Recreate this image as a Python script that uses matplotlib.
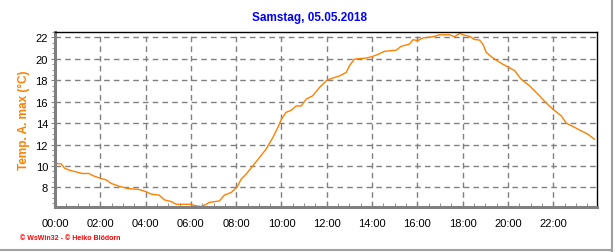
import matplotlib
matplotlib.use("Agg")
import matplotlib.pyplot as plt
from matplotlib.ticker import MultipleLocator, FuncFormatter
from matplotlib.lines import Line2D

title = "Samstag, 05.05.2018"
ylabel = "Temp. A. max (°C)"
footer = "© WsWin32 - © Heiko Blödorn"

hours = [0.0, 0.27, 0.42, 0.64, 0.93, 1.2, 1.5, 1.67, 2.0, 2.26, 2.48, 2.85, 3.2, 3.73,
         4.0, 4.25, 4.6, 4.83, 5.13, 5.35, 5.94, 6.23, 6.45, 6.68, 6.82, 7.26, 7.48, 7.78,
         8.03, 8.22, 8.44, 8.73, 9.03, 9.32, 9.62, 9.84, 10.0, 10.2, 10.43, 10.65, 10.87,
         11.09, 11.38, 11.68, 12.0, 12.26, 12.56, 12.86, 13.0, 13.22, 13.74, 13.99, 14.25,
         14.55, 15.06, 15.28, 15.65, 15.8, 16.02, 16.24, 16.68, 16.98, 17.42, 17.64, 17.86,
         18.08, 18.3, 18.52, 18.74, 18.89, 19.04, 19.26, 19.48, 19.77, 19.99, 20.29, 20.58,
         20.95, 21.32, 21.69, 21.98, 22.35, 22.57, 22.86, 23.23, 23.52, 23.82]
temps = [10.24, 10.2, 9.8, 9.6, 9.45, 9.3, 9.3, 9.1, 8.85, 8.7, 8.37, 8.1, 7.9, 7.8,
         7.62, 7.37, 7.28, 6.84, 6.68, 6.43, 6.43, 6.28, 6.22, 6.43, 6.6, 6.74, 7.28, 7.53,
         8.0, 8.77, 9.24, 10.0, 10.8, 11.57, 12.66, 13.6, 14.37, 15.0, 15.2, 15.6, 15.6,
         16.24, 16.55, 17.33, 18.0, 18.2, 18.4, 18.73, 19.35, 19.97, 20.07, 20.2, 20.4,
         20.7, 20.8, 21.16, 21.37, 21.78, 21.7, 21.94, 22.06, 22.24, 22.24, 22.06, 22.37,
         22.2, 22.1, 21.8, 21.75, 21.37, 20.6, 20.2, 19.88, 19.5, 19.25, 18.9, 18.1,
         17.48, 16.7, 15.87, 15.3, 14.68, 14.0, 13.69, 13.28, 12.97, 12.5]

plt.rcParams['font.family'] = ['Liberation Sans', 'DejaVu Sans']

fig = plt.figure(figsize=(6.16, 2.53), dpi=100)
ax = fig.add_axes([55/616, (253-207.7)/253, (597-55)/616, (207.7-33)/253])

ax.plot(hours, temps, color='#FF8000', lw=1.0)
ax.set_xlim(0, 23.93)
ax.set_ylim(6.2, 22.5)

ax.xaxis.set_major_locator(MultipleLocator(2))
ax.xaxis.set_minor_locator(MultipleLocator(0.5))
ax.xaxis.set_major_formatter(FuncFormatter(lambda v, p: f"{int(round(v)):02d}:00"))
ax.yaxis.set_major_locator(MultipleLocator(2))
ax.yaxis.set_minor_locator(MultipleLocator(0.5))

ax.grid(True, which='major', color='#808080', linestyle=(0, (4, 3)), linewidth=1.0)
ax.tick_params(axis='x', which='major', labelsize=8, direction='in', length=4,
               color='#808080', pad=8)
ax.tick_params(axis='x', which='minor', direction='in', length=3, color='#808080')
ax.tick_params(axis='y', which='major', labelsize=8, direction='out', length=3,
               color='#808080', pad=2)
ax.tick_params(axis='y', which='minor', direction='out', length=2, color='#808080')

for s in ['left', 'bottom']:
    ax.spines[s].set_color('#808080')
    ax.spines[s].set_linewidth(2.2)
for s in ['top', 'right']:
    ax.spines[s].set_color('black')
    ax.spines[s].set_linewidth(1.0)

ax.set_ylabel(ylabel, color='#FF8000', fontsize=8.5, fontweight='bold', labelpad=4)

fig.text(309/616, 1 - 18/253, title, color='#0000FF', fontsize=8.5, fontweight='bold',
         ha='center', va='center')
fig.text(20/616, 1 - 239/253, footer, color='#FF0000', fontsize=5, fontweight='bold',
         ha='left', va='center')

fig.add_artist(Line2D([612/616, 612/616], [0, 1], transform=fig.transFigure,
                      color='#A0A0A0', lw=1.5))
fig.add_artist(Line2D([0, 612/616], [2/253, 2/253], transform=fig.transFigure,
                      color='#A0A0A0', lw=1.5))

fig.savefig('out.png', dpi=100)
